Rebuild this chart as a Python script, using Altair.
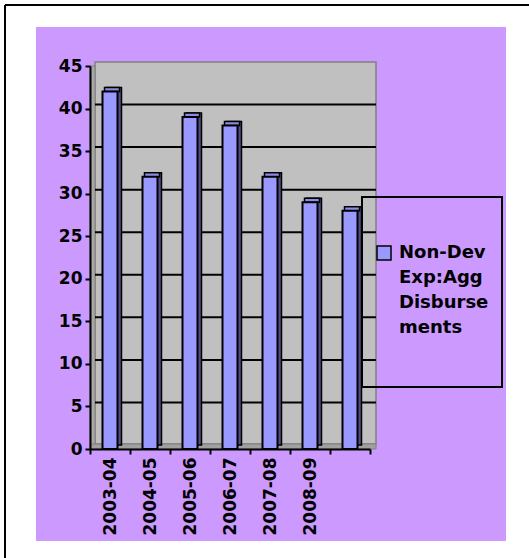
import altair as alt
import pandas as pd

# Fiscal years and the aggregate disbursement share for each
periods = ["2003-04", "2004-05", "2005-06", "2006-07", "2007-08", "2008-09", ""]
values = [42, 32, 39, 38, 32, 29, 28]
series_name = "Non-Dev\nExp:Agg\nDisburse\nments"

y_ticks = [0, 5, 10, 15, 20, 25, 30, 35, 40, 45]
grid_levels = [5, 10, 15, 20, 25, 30, 35, 40]

bars = pd.DataFrame({"period": periods, "value": values, "series": series_name})
grid = pd.DataFrame({"level": grid_levels})
one = alt.Data(values=[{}])

W, H = 280, 383
FONT = "DejaVu Sans"

y_scale = alt.Scale(domain=[0, 45], nice=False, zero=True)
x_scale = alt.Scale(paddingInner=0, paddingOuter=0)

x_axis = alt.Axis(
    title=None, labelAngle=-90, labelFont=FONT, labelFontWeight="bold",
    labelFontSize=17, labelColor="black", domainColor="black", domainWidth=2,
    tickColor="black", tickWidth=2, tickSize=5, tickBand="extent", labelPadding=3,
    zindex=2,
)
y_axis = alt.Axis(
    title=None, values=y_ticks, labelFont=FONT, labelFontWeight="bold",
    labelFontSize=17, labelColor="black", domainColor="black", domainWidth=2,
    tickColor="black", tickWidth=2, tickSize=5, grid=False, labelPadding=3,
    zindex=2,
)


def box(x, x2, y, y2, **style):
    return alt.Chart(one).mark_rect(**style).encode(
        x=alt.value(x), x2=alt.value(x2), y=alt.value(y), y2=alt.value(y2)
    )


def line(x, x2, y, y2):
    return alt.Chart(one).mark_rule(color="black", strokeWidth=2).encode(
        x=alt.value(x), x2=alt.value(x2), y=alt.value(y), y2=alt.value(y2)
    )


# page frame (top and left edges) and lavender chart area
frame_top = line(-85, 460, -61, -61)
frame_left = line(-85, -85, -61, 500)
panel = box(-54, 416, -39, 475, fill="#CC99FF")

# 3-D plot box: back wall, side wall, floor
wall = box(5, 286, -4, 378, fill="#C0C0C0", stroke="#808080", strokeWidth=1.5)
side = box(0, 5, 0, 383, fill="#A8A8A8", stroke="#808080", strokeWidth=1)
floor = box(0, 286, 378, 383, fill="#A0A0A0", stroke="#808080", strokeWidth=1)

gridlines = alt.Chart(grid).mark_rule(color="black", strokeWidth=2, yOffset=-4).encode(
    y=alt.Y("level:Q", scale=y_scale, axis=y_axis),
    x=alt.value(5),
    x2=alt.value(286),
)

x_enc = alt.X("period:N", sort=periods, scale=x_scale, axis=x_axis)
y_enc = alt.Y("value:Q", scale=y_scale, axis=y_axis)

# dark right-hand face of each column
bar_side = alt.Chart(bars).mark_bar(
    size=15, xOffset=4, yOffset=-4, color="#4F4F88", stroke="black", strokeWidth=1.5
).encode(x=x_enc, y=y_enc)

# lighter top face of each column
bar_top = alt.Chart(bars).mark_bar(
    size=15, xOffset=2, yOffset=-4, y2Offset=0, color="#8C8CE6",
    stroke="black", strokeWidth=1.5
).encode(x=x_enc, y=y_enc, y2=alt.Y2("value:Q"))

bar_front = alt.Chart(bars).mark_bar(size=15, stroke="black", strokeWidth=2).encode(
    x=x_enc,
    y=y_enc,
    color=alt.Color(
        "series:N",
        scale=alt.Scale(range=["#9999FF"]),
        legend=alt.Legend(
            title=None, orient="none", legendX=285, legendY=178,
            labelExpr="split(datum.label, '\\n')",
            labelFont=FONT, labelFontWeight="bold", labelFontSize=18,
            labelColor="black", labelLimit=300, labelOffset=6,
            symbolType="square", symbolSize=196, symbolStrokeColor="black",
            symbolStrokeWidth=1.5, symbolOpacity=1, padding=0,
        ),
    ),
)

legend_box = box(272, 412, 131, 321, fill=None, stroke="black", strokeWidth=2)

chart = (
    alt.layer(frame_top, frame_left, panel, wall, side, floor, gridlines,
              bar_side, bar_top, bar_front, legend_box)
    .properties(
        width=W, height=H,
        padding={"left": 90, "top": 66, "right": 159, "bottom": 109},
        autosize=alt.AutoSizeParams(type="none"),
        background="white",
    )
    .configure_view(stroke=None)
    .configure(style={"guide-label": {"lineHeight": 25}})
)

chart.save("out.html", embed_options={"renderer": "svg", "actions": False})
